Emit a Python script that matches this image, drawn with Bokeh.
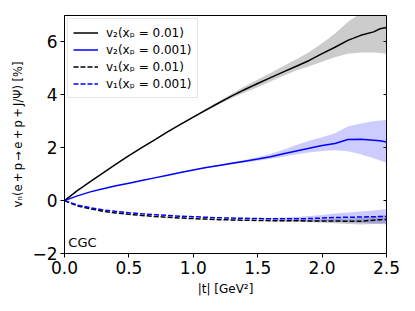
from bokeh.plotting import figure
from bokeh.models import (Range1d, LinearAxis, FixedTicker, Legend, LegendItem, Label,
                          CustomJSTickFormatter)
from bokeh.embed import file_html
from bokeh.resources import INLINE

# ---- data ----
t = [0.0, 0.1, 0.2, 0.3, 0.4, 0.5, 0.6, 0.7, 0.8, 0.9, 1.0, 1.1, 1.2,
     1.3, 1.4, 1.5, 1.6, 1.7, 1.8, 1.9, 2.0, 2.1, 2.2, 2.3, 2.4, 2.45, 2.5]

v2_x001 = [0.0, 0.38, 0.72, 1.05, 1.38, 1.70, 2.00, 2.30, 2.60, 2.88, 3.16, 3.43, 3.70,
           3.96, 4.20, 4.43, 4.65, 4.87, 5.08, 5.30, 5.56, 5.80, 6.06, 6.25, 6.38, 6.50, 6.55]
v2_x001_lo = [0.0, 0.38, 0.72, 1.05, 1.37, 1.69, 1.99, 2.29, 2.58, 2.86, 3.12, 3.38, 3.64,
              3.88, 4.09, 4.29, 4.50, 4.72, 4.92, 5.08, 5.25, 5.42, 5.55, 5.60, 5.60, 5.58, 5.55]
v2_x001_hi = [0.0, 0.38, 0.72, 1.05, 1.39, 1.71, 2.01, 2.31, 2.62, 2.90, 3.20, 3.48, 3.76,
              4.04, 4.32, 4.58, 4.83, 5.09, 5.35, 5.62, 5.95, 6.32, 6.75, 7.10, 7.35, 7.45, 7.55]

v2_x0001 = [0.0, 0.18, 0.33, 0.45, 0.56, 0.66, 0.76, 0.86, 0.96, 1.06, 1.16, 1.25, 1.33,
            1.41, 1.49, 1.57, 1.66, 1.77, 1.88, 1.98, 2.08, 2.16, 2.31, 2.32, 2.28, 2.26, 2.22]
v2_x0001_lo = [0.0, 0.18, 0.33, 0.45, 0.56, 0.66, 0.76, 0.86, 0.95, 1.05, 1.14, 1.23, 1.30,
               1.37, 1.44, 1.51, 1.58, 1.66, 1.75, 1.82, 1.88, 1.90, 1.87, 1.75, 1.60, 1.52, 1.43]
v2_x0001_hi = [0.0, 0.18, 0.33, 0.45, 0.56, 0.66, 0.76, 0.86, 0.97, 1.07, 1.18, 1.27, 1.36,
               1.45, 1.54, 1.64, 1.76, 1.92, 2.10, 2.26, 2.40, 2.55, 2.80, 2.92, 3.00, 3.03, 3.05]

v1_x001 = [0.0, -0.20, -0.31, -0.40, -0.47, -0.52, -0.56, -0.60, -0.63, -0.66, -0.68, -0.70, -0.72,
           -0.73, -0.74, -0.75, -0.76, -0.76, -0.76, -0.77, -0.77, -0.77, -0.78, -0.78, -0.74, -0.72, -0.71]
v1_x001_lo = [0.0, -0.20, -0.31, -0.40, -0.47, -0.52, -0.56, -0.60, -0.63, -0.66, -0.68, -0.70, -0.72,
              -0.74, -0.75, -0.76, -0.78, -0.79, -0.80, -0.82, -0.84, -0.86, -0.88, -0.90, -0.88, -0.87, -0.87]
v1_x001_hi = [0.0, -0.20, -0.31, -0.40, -0.47, -0.52, -0.56, -0.60, -0.63, -0.66, -0.68, -0.70, -0.72,
              -0.72, -0.73, -0.74, -0.74, -0.73, -0.72, -0.72, -0.70, -0.68, -0.68, -0.66, -0.61, -0.58, -0.55]

v1_x0001 = [0.0, -0.17, -0.27, -0.35, -0.41, -0.46, -0.50, -0.53, -0.56, -0.59, -0.61, -0.63, -0.65,
            -0.66, -0.67, -0.68, -0.69, -0.69, -0.69, -0.68, -0.66, -0.64, -0.63, -0.62, -0.61, -0.60, -0.60]
v1_x0001_lo = [0.0, -0.17, -0.27, -0.35, -0.41, -0.46, -0.50, -0.53, -0.56, -0.59, -0.61, -0.63, -0.65,
               -0.66, -0.68, -0.70, -0.72, -0.74, -0.76, -0.78, -0.79, -0.80, -0.82, -0.84, -0.87, -0.88, -0.90]
v1_x0001_hi = [0.0, -0.17, -0.27, -0.35, -0.41, -0.46, -0.50, -0.53, -0.56, -0.59, -0.61, -0.63, -0.65,
               -0.66, -0.66, -0.66, -0.66, -0.64, -0.62, -0.58, -0.54, -0.49, -0.45, -0.41, -0.37, -0.35, -0.33]

series_labels = ["v₂(xₚ = 0.01)", "v₂(xₚ = 0.001)", "v₁(xₚ = 0.01)", "v₁(xₚ = 0.001)"]

x_ticks = [0.0, 0.5, 1.0, 1.5, 2.0, 2.5]
x_tick_labels = ["0.0", "0.5", "1.0", "1.5", "2.0", "2.5"]
y_ticks = [-2, 0, 2, 4, 6]
y_tick_labels = ["−2", "0", "2", "4", "6"]

x_label = "|t| [GeV²]"
y_label = "vₙ(e\u2009+\u2009p\u2009→\u2009e\u2009+\u2009p\u2009+\u2009J/Ψ) [%]"
note_text = "CGC"

FONT = "DejaVu Sans"

p = figure(frame_width=322, frame_height=238, output_backend="svg", toolbar_location=None,
           x_range=Range1d(0, 2.5), y_range=Range1d(-2, 7),
           min_border_left=64, min_border_right=29, min_border_top=15, min_border_bottom=57)
p.background_fill_color = "white"
p.border_fill_color = "white"
p.outline_line_color = "black"
p.outline_line_width = 1
p.xgrid.visible = False
p.ygrid.visible = False

# bands
p.varea(x=t, y1=v2_x001_lo, y2=v2_x001_hi, fill_color="black", fill_alpha=0.2)
p.varea(x=t, y1=v2_x0001_lo, y2=v2_x0001_hi, fill_color="blue", fill_alpha=0.2)
p.varea(x=t, y1=v1_x001_lo, y2=v1_x001_hi, fill_color="black", fill_alpha=0.2)
p.varea(x=t, y1=v1_x0001_lo, y2=v1_x0001_hi, fill_color="blue", fill_alpha=0.2)

# lines
r1 = p.line(t, v2_x001, line_color="black", line_width=1.5)
r2 = p.line(t, v2_x0001, line_color="blue", line_width=1.5)
r3 = p.line(t, v1_x001, line_color="black", line_width=1.5, line_dash="5 2")
r4 = p.line(t, v1_x0001, line_color="blue", line_width=1.5, line_dash="5 2")

# axes
for ax in (p.xaxis[0], p.yaxis[0]):
    ax.axis_line_color = "black"
    ax.major_tick_line_color = "black"
    ax.major_tick_in = 0
    ax.major_tick_out = 4
    ax.minor_tick_line_color = None
    ax.major_label_text_font = FONT
    ax.major_label_text_font_size = "17px"
    ax.major_label_text_color = "black"
    ax.axis_label_text_font = FONT
    ax.axis_label_text_font_size = "12px"
    ax.axis_label_text_font_style = "normal"
    ax.axis_label_text_color = "black"
    ax.major_label_standoff = 3

p.xaxis[0].ticker = FixedTicker(ticks=x_ticks)
p.xaxis[0].major_label_overrides = {k: v for k, v in zip(x_ticks, x_tick_labels)}
p.xaxis[0].axis_label = x_label
p.xaxis[0].axis_label_standoff = 5
p.yaxis[0].ticker = FixedTicker(ticks=y_ticks)
p.yaxis[0].major_label_overrides = {k: v for k, v in zip(y_ticks, y_tick_labels)}
p.yaxis[0].axis_label = y_label
p.yaxis[0].axis_label_text_font_size = "11.5px"
p.yaxis[0].axis_label_standoff = 4

right = LinearAxis(ticker=FixedTicker(ticks=y_ticks), axis_line_color=None,
                   major_tick_in=3, major_tick_out=0, minor_tick_line_color=None,
                   formatter=CustomJSTickFormatter(code="return ''"),
                   major_label_standoff=0)
p.add_layout(right, "right")

# legend
legend = Legend(items=[LegendItem(label=series_labels[0], renderers=[r1]),
                       LegendItem(label=series_labels[1], renderers=[r2]),
                       LegendItem(label=series_labels[2], renderers=[r3]),
                       LegendItem(label=series_labels[3], renderers=[r4])],
                location="top_left")
legend.label_text_font = FONT
legend.label_text_font_size = "12px"
legend.label_text_color = "black"
legend.border_line_color = "#cccccc"
legend.border_line_width = 1
legend.background_fill_alpha = 0.8
legend.margin = 3
legend.padding = 5
legend.spacing = 0
legend.label_height = 17
legend.glyph_height = 17
legend.glyph_width = 25
legend.label_standoff = 8
p.add_layout(legend)

p.add_layout(Label(x=0.03, y=-1.6, text=note_text, text_font=FONT, text_font_size="13px",
                   text_color="black", text_baseline="alphabetic"))

open("out.html", "w").write(file_html(p, INLINE))
